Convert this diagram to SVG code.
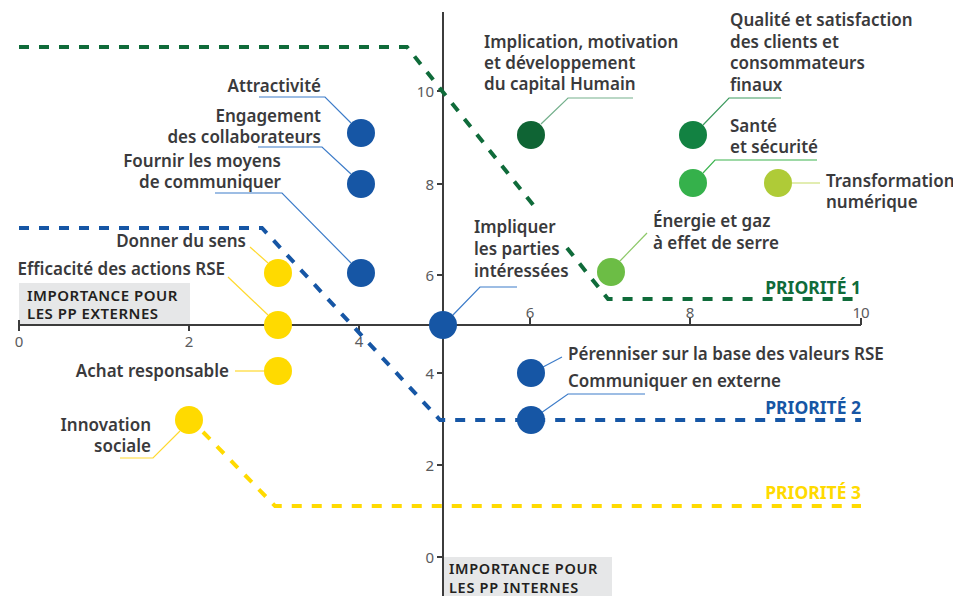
<svg xmlns="http://www.w3.org/2000/svg" width="953" height="596" viewBox="0 0 953 596">
<style>
.lbl{font-family:"Noto Sans","Liberation Sans",sans-serif;font-size:17px;font-weight:600;fill:#3a3a3c}
.r{text-anchor:end}
.tick{font-family:"Noto Sans","Liberation Sans",sans-serif;font-size:15px;font-weight:400;fill:#5a5b5d}
.ax{font-family:"Noto Sans","Liberation Sans",sans-serif;font-size:15px;font-weight:600;fill:#231f20;letter-spacing:0.5px}
.ax2{font-family:"Noto Sans","Liberation Sans",sans-serif;font-size:14.5px;font-weight:600;fill:#231f20;letter-spacing:0.7px}
.prio{font-family:"Noto Sans","Liberation Sans",sans-serif;font-size:17.5px;font-weight:700;text-anchor:end}
.dash{fill:none;stroke-width:4;stroke-dasharray:10 10}
.lead{fill:none;stroke-width:1.2}
.axis{stroke:#3c3c3c;stroke-width:2;fill:none}
</style>
<rect width="953" height="596" fill="#ffffff"/>

<!-- axis label boxes -->
<g id="label-externes">
<rect x="19" y="283" width="171" height="42" fill="#e6e7e8"/>
<text class="ax" x="27" y="301">IMPORTANCE POUR</text>
<text class="ax" x="27" y="319">LES PP EXTERNES</text>
</g>
<g id="label-internes">
<rect x="443" y="557" width="169" height="39" fill="#e6e7e8"/>
<text class="ax2" x="449" y="574">IMPORTANCE POUR</text>
<text class="ax2" x="449" y="593">LES PP INTERNES</text>
</g>

<!-- axes -->
<g id="axes">
<path class="axis" d="M443,12 V596"/>
<path class="axis" d="M19,325 H861"/>
<path class="axis" d="M19,320 V331 M189,325 V331 M359,325 V331 M530,318 V325 M690,318 V325 M861,318 V325"/>
<path class="axis" d="M437,91 H443 M437,184 H443 M437,275 H443 M437,373 H443 M437,465 H443 M437,557 H443"/>
<text class="tick" x="19" y="347" text-anchor="middle">0</text>
<text class="tick" x="189" y="347" text-anchor="middle">2</text>
<text class="tick" x="359" y="347" text-anchor="middle">4</text>
<text class="tick" x="530" y="318" text-anchor="middle">6</text>
<text class="tick" x="690" y="318" text-anchor="middle">8</text>
<text class="tick" x="861" y="318" text-anchor="middle">10</text>
<text class="tick" x="434" y="97" text-anchor="end">10</text>
<text class="tick" x="434" y="190" text-anchor="end">8</text>
<text class="tick" x="434" y="281" text-anchor="end">6</text>
<text class="tick" x="434" y="379" text-anchor="end">4</text>
<text class="tick" x="434" y="471" text-anchor="end">2</text>
<text class="tick" x="434" y="563" text-anchor="end">0</text>
</g>

<!-- connectors: priority thresholds and leader lines -->
<g id="connectors">
<path class="dash" stroke="#0f6b3a" d="M19,47 H407 L538,211"/>
<path class="dash" stroke="#0f6b3a" d="M567,248 L608,299 H861"/>
<path class="dash" stroke="#1656a5" d="M19,228 H262 L440,420 H861"/>
<path class="dash" stroke="#ffda00" d="M203,432 L275,506 H861"/>

<path class="lead" stroke="#3d7cc9" d="M259,97 H325 L351,123"/>
<path class="lead" stroke="#3d7cc9" d="M258,147 H322 L351,174"/>
<path class="lead" stroke="#3d7cc9" d="M215,193 H282 L351,263"/>
<path class="lead" stroke="#3d7cc9" d="M452,316 L480,287 H517"/>
<path class="lead" stroke="#3d7cc9" d="M543,367 L562,357"/>
<path class="lead" stroke="#3d7cc9" d="M541,413 L568,394 H645"/>
<path class="lead" stroke="#ffd92e" d="M250,247 L268,263"/>
<path class="lead" stroke="#ffd92e" d="M228,277 L268,315"/>
<path class="lead" stroke="#ffd92e" d="M235,371 H264"/>
<path class="lead" stroke="#ffd92e" d="M120,458 H153 L180,431"/>
<path class="lead" stroke="#74b08c" d="M633,98 H568 L541,124"/>
<path class="lead" stroke="#3d9a5e" d="M781,98 H729 L703,125"/>
<path class="lead" stroke="#3cb44f" d="M817,160 H715 L703,173"/>
<path class="lead" stroke="#cfe27d" stroke-width="2" d="M792,183 H820"/>
<path class="lead" stroke="#8dc868" d="M620,261 L647,233"/>
</g>

<!-- nodes -->
<g id="n-attractivite"><circle cx="361" cy="133" r="14" fill="#1656a5"/><text class="lbl r" x="321" y="92">Attractivité</text></g>
<g id="n-engagement"><circle cx="361" cy="184" r="14" fill="#1656a5"/><text class="lbl r" x="321" y="122">Engagement</text><text class="lbl r" x="321" y="143">des collaborateurs</text></g>
<g id="n-fournir"><circle cx="361" cy="273" r="14" fill="#1656a5"/><text class="lbl r" x="281" y="167">Fournir les moyens</text><text class="lbl r" x="281" y="188">de communiquer</text></g>
<g id="n-impliquer"><circle cx="443" cy="325" r="14" fill="#1656a5"/><text class="lbl" x="474" y="233">Impliquer</text><text class="lbl" x="474" y="255">les parties</text><text class="lbl" x="474" y="277">intéressées</text></g>
<g id="n-perenniser"><circle cx="531" cy="373" r="14" fill="#1656a5"/><text class="lbl" x="568" y="360">Pérenniser sur la base des valeurs RSE</text></g>
<g id="n-communiquer"><circle cx="531" cy="420" r="14" fill="#1656a5"/><text class="lbl" x="568" y="387">Communiquer en externe</text></g>

<g id="n-donner"><circle cx="278" cy="273" r="14" fill="#ffda00"/><text class="lbl r" x="246" y="247">Donner du sens</text></g>
<g id="n-efficacite"><circle cx="278" cy="325" r="14" fill="#ffda00"/><text class="lbl r" x="225" y="275">Efficacité des actions RSE</text></g>
<g id="n-achat"><circle cx="278" cy="371" r="14" fill="#ffda00"/><text class="lbl r" x="229" y="377">Achat responsable</text></g>
<g id="n-innovation"><circle cx="189" cy="420" r="14" fill="#ffda00"/><text class="lbl r" x="151" y="431">Innovation</text><text class="lbl r" x="151" y="452">sociale</text></g>

<g id="n-implication"><circle cx="531" cy="135" r="14" fill="#0f6434"/><text class="lbl" x="484" y="48">Implication, motivation</text><text class="lbl" x="484" y="69">et développement</text><text class="lbl" x="484" y="90">du capital Humain</text></g>
<g id="n-qualite"><circle cx="693" cy="135" r="14" fill="#128242"/><text class="lbl" x="730" y="26">Qualité et satisfaction</text><text class="lbl" x="730" y="48">des clients et</text><text class="lbl" x="730" y="69">consommateurs</text><text class="lbl" x="730" y="91">finaux</text></g>
<g id="n-sante"><circle cx="693" cy="183" r="14" fill="#35b14b"/><text class="lbl" x="730" y="132">Santé</text><text class="lbl" x="730" y="153">et sécurité</text></g>
<g id="n-transformation"><circle cx="778" cy="183" r="14" fill="#afcb37"/><text class="lbl" x="826" y="187">Transformation</text><text class="lbl" x="826" y="208">numérique</text></g>
<g id="n-energie"><circle cx="611" cy="272" r="14" fill="#6cbd45"/><text class="lbl" x="653" y="227">Énergie et gaz</text><text class="lbl" x="653" y="249">à effet de serre</text></g>

<g id="priorities">
<text class="prio" x="861" y="294" fill="#0f6b3a">PRIORITÉ 1</text>
<text class="prio" x="861" y="414" fill="#1656a5">PRIORITÉ 2</text>
<text class="prio" x="861" y="499" fill="#ffda00">PRIORITÉ 3</text>
</g>
</svg>
